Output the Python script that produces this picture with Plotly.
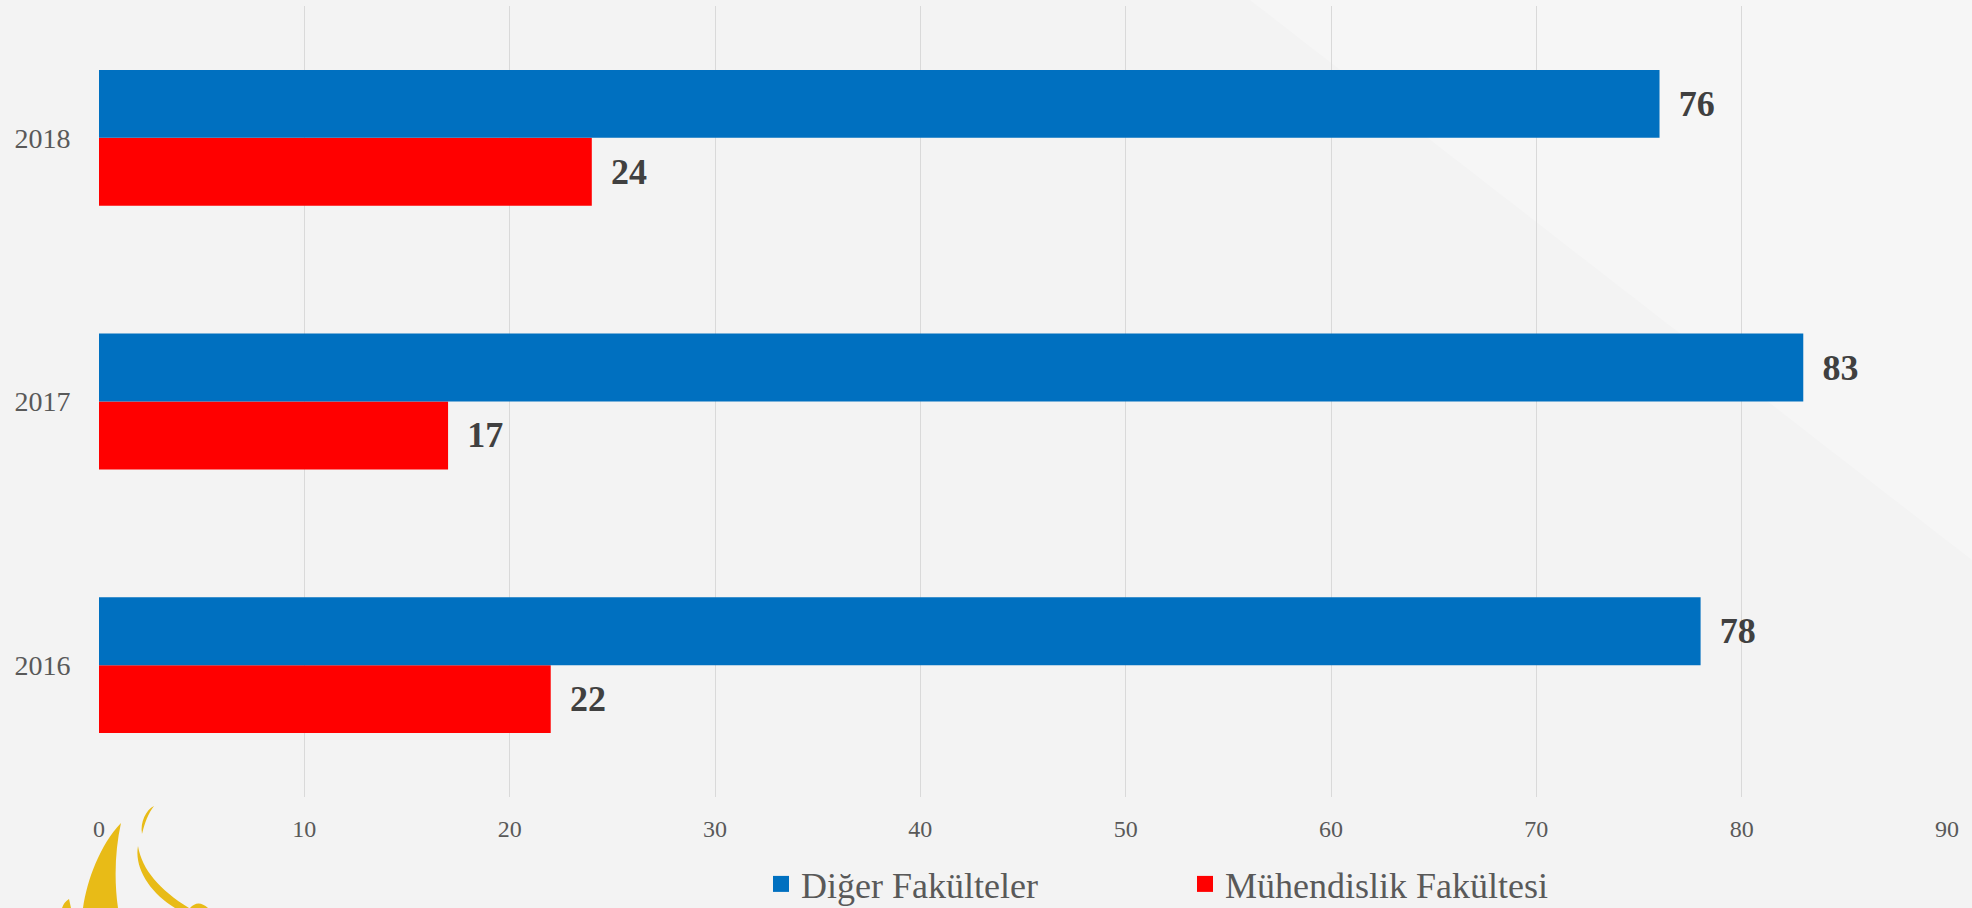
import plotly.graph_objects as go

# ---- data ----
years = ["2016", "2017", "2018"]
diger = [78, 83, 76]          # Diğer Fakülteler
muhendislik = [22, 17, 24]    # Mühendislik Fakültesi
series_names = ["Diğer Fakülteler", "Mühendislik Fakültesi"]
x_ticks = [0, 10, 20, 30, 40, 50, 60, 70, 80, 90]

BLUE = "#0070C0"
RED = "#FF0000"
FONT = "Liberation Serif, Times New Roman, serif"

W, H = 1972, 908
ML, MR, MT, MB = 99, 25, 6, 111
PW, PH = W - ML - MR, H - MT - MB


def px(x, y):
    return (x - ML) / PW, (H - MB - y) / PH


def path(cmds):
    out = []
    for c in cmds:
        if isinstance(c, str):
            out.append(c)
        else:
            xx, yy = px(*c)
            out.append(f"{xx:.5f},{yy:.5f}")
    return " ".join(out)


fig = go.Figure()

# bars: red first so that blue sits on top in each group
fig.add_trace(go.Bar(
    y=years, x=muhendislik, orientation="h", name=series_names[1],
    marker=dict(color=RED, line=dict(width=0)), showlegend=False,
    text=muhendislik, texttemplate="\u00a0\u2009%{x}", textposition="outside",
    textfont=dict(family=FONT, size=36, color="#404040", weight="bold"),
    cliponaxis=False,
))
fig.add_trace(go.Bar(
    y=years, x=diger, orientation="h", name=series_names[0],
    marker=dict(color=BLUE, line=dict(width=0)), showlegend=False,
    text=diger, texttemplate="\u00a0\u2009%{x}", textposition="outside",
    textfont=dict(family=FONT, size=36, color="#404040", weight="bold"),
    cliponaxis=False,
))

# legend entries
for nm, col in [(series_names[0], BLUE), (series_names[1], RED)]:
    fig.add_trace(go.Scatter(
        x=[None], y=[None], mode="markers", name=nm,
        marker=dict(symbol="square", size=16, color=col),
    ))

shapes = []
# subtle lighter background region (upper right)
shapes.append(dict(type="path", xref="paper", yref="paper", layer="below",
                   path=path(["M", (1250, 0), "L", (1972, 0), "L", (1972, 560), "Z"]),
                   fillcolor="#f6f6f6", line=dict(width=0)))

GOLD = "#E8BB17"
flame = [
    ["M", (121, 823), "C", (100, 845), (87, 880), (83, 908), "L", (118, 908),
     "C", (114, 880), (115, 850), (121, 823), "Z"],
    ["M", (154, 806), "C", (146, 810), (140, 822), (142, 834), "C", (145, 822), (148, 814), (154, 806), "Z"],
    ["M", (138, 846), "C", (134, 868), (150, 893), (175, 908), "L", (189, 908),
     "C", (160, 890), (142, 870), (138, 846), "Z"],
    ["M", (190, 908), "Q", (198, 899), (208, 908), "Z"],
    ["M", (62, 908), "Q", (64, 902), (69, 899), "L", (71, 908), "Z"],
]
for f in flame:
    shapes.append(dict(type="path", xref="paper", yref="paper", layer="above",
                       path=path(f), fillcolor=GOLD, line=dict(width=0)))

fig.update_layout(
    width=W, height=H,
    margin=dict(l=ML, r=MR, t=MT, b=MB, autoexpand=False),
    paper_bgcolor="#f3f3f3",
    plot_bgcolor="rgba(0,0,0,0)",
    barmode="group", bargap=0.485, bargroupgap=0,
    font=dict(family=FONT, color="#595959"),
    xaxis=dict(
        range=[0, 90], tickvals=x_ticks, showgrid=True, gridcolor="#d9d9d9",
        gridwidth=1.3, zeroline=False, showline=False, automargin=False,
        ticks="outside", ticklen=10, tickcolor="rgba(0,0,0,0)",
        tickfont=dict(family=FONT, size=24, color="#595959"),
        fixedrange=True,
    ),
    yaxis=dict(
        type="category", categoryorder="array", categoryarray=years,
        showgrid=False, zeroline=False, showline=False, automargin=False,
        ticks="outside", ticklen=22, tickcolor="rgba(0,0,0,0)",
        tickfont=dict(family=FONT, size=28, color="#595959"),
        fixedrange=True,
    ),
    legend=dict(
        orientation="h", xref="container", yref="container",
        x=761 / W, y=(H - 884) / H, xanchor="left", yanchor="middle",
        entrywidth=379, entrywidthmode="pixels",
        font=dict(family=FONT, size=36, color="#595959"),
        bgcolor="rgba(0,0,0,0)", itemclick=False, itemdoubleclick=False,
    ),
    shapes=shapes,
    showlegend=True,
)

fig.write_html(
    "out.html",
    config={"displayModeBar": False},
    post_script="document.body.style.margin='0';document.body.style.overflow='hidden';",
)
